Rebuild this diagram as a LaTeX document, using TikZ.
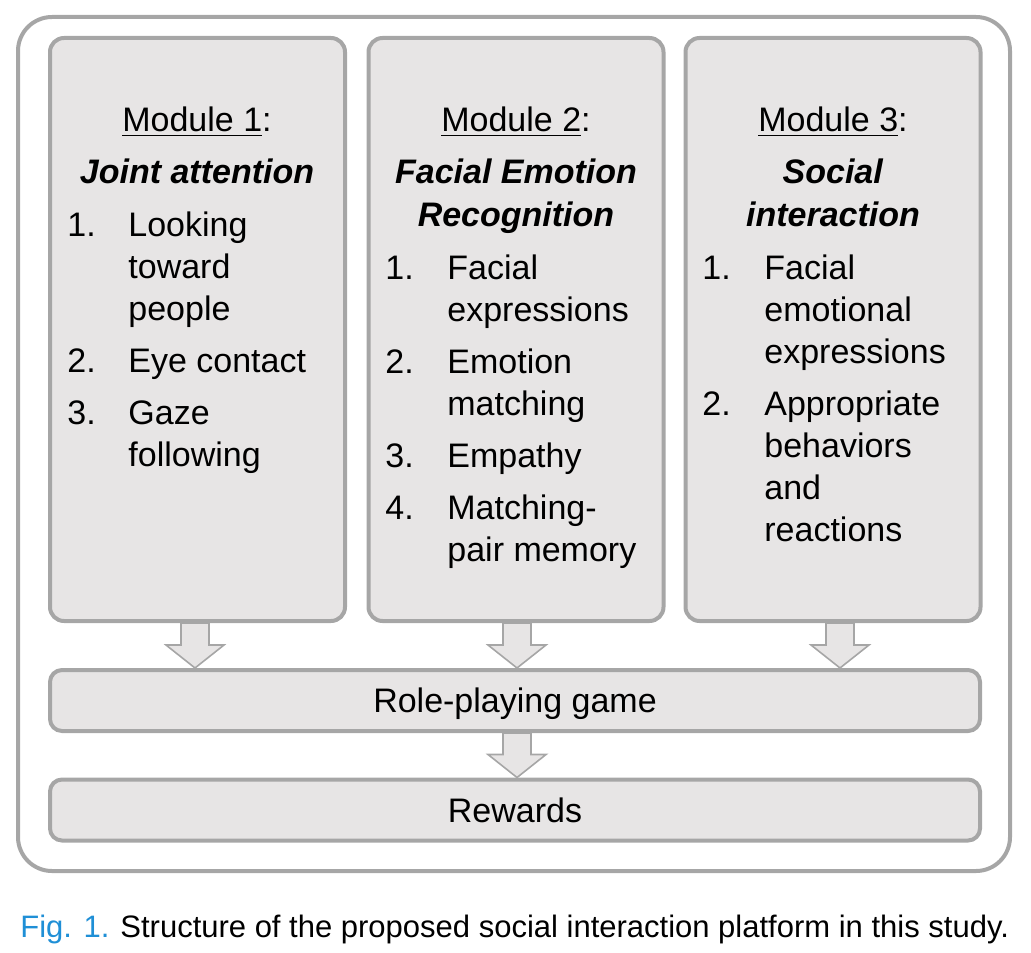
\documentclass[tikz,border=0pt]{standalone}
\usepackage{fontspec}
\setmainfont{Liberation Sans}
\usetikzlibrary{calc,positioning}
\definecolor{boxgray}{HTML}{E7E5E5}
\definecolor{edgegray}{HTML}{A6A6A6}
\definecolor{figblue}{HTML}{1F8FD6}
\newcommand\modfont{\fontsize{17}{21}\selectfont}
\newcommand\capfont{\fontsize{15.5}{18}\selectfont}
\tikzset{
  modbox/.style={draw=edgegray,fill=boxgray,line width=2pt,rounded corners=7pt,
    minimum width=147.5pt,minimum height=291.5pt,inner sep=0pt},
  barbox/.style={draw=edgegray,fill=boxgray,line width=2pt,rounded corners=6pt,
    minimum width=465pt,minimum height=30.5pt,inner sep=0pt,font=\modfont,
    text height=14.5pt,text depth=2.5pt},
  heading/.style={font=\modfont,inner sep=0pt,anchor=base,align=center},
  item/.style={font=\modfont,inner sep=0pt,anchor=base west,align=left},
  arrowshape/.style={draw=edgegray,fill=boxgray,line width=0.8pt,line join=miter},
}
% hollow block arrow: from node, to node, x shift (px)
\newcommand\blockarrow[3]{%
  \draw[arrowshape] let \p1=($(#1)+(#3,0)$), \p2=(#2) in
    (\x1-7pt,\y1) -- (\x1+7pt,\y1) -- (\x1+7pt,\y2+11.5pt) -- (\x1+14.5pt,\y2+11.5pt)
    -- (\x1,\y2) -- (\x1-14.5pt,\y2+11.5pt) -- (\x1-7pt,\y2+11.5pt) -- cycle;}

\begin{document}
\begin{tikzpicture}[x=0.5pt,y=-0.5pt]
  \useasboundingbox (0,0) rectangle (1031,952);
  \draw[edgegray,line width=2pt,rounded corners=17pt] (18,17) rectangle (1010,871);

  % the three modules
  \node[modbox] (m1) at (197.5,329.5) {};
  \node[modbox] (m2) at (516,329.5) {};
  \node[modbox] (m3) at (833,329.5) {};

  \node[barbox] (game) at (515,700.5) {Role-playing game};
  \node[barbox] (reward) at (515,810) {Rewards};

  \blockarrow{m1.south}{game.north}{-2.5}
  \blockarrow{m2.south}{game.north}{1}
  \blockarrow{m3.south}{game.north}{7}
  \blockarrow{game.south}{reward.north}{2}

  % module 1 (multi-line nodes sit on their last baseline)
  \node[heading] (h1) at (197,132) {\underline{Module 1}:};
  \node[heading] (t1) at (197,184) {\textbf{\textit{Joint attention}}};
  \node[item] (n11) at (67,236) {1.};
  \node[item] (i11) at (128,320) {Looking\\toward\\people};
  \node[item] (n12) at (67,372) {2.};
  \node[item] (i12) at (128,372) {Eye contact};
  \node[item] (n13) at (67,424) {3.};
  \node[item] (i13) at (128,466) {Gaze\\following};

  % module 2
  \node[heading] (h2) at (516,132) {\underline{Module 2}:};
  \node[heading] (t2) at (516,226) {\textbf{\textit{Facial Emotion}}\\\textbf{\textit{Recognition}}};
  \node[item] (n21) at (385,279) {1.};
  \node[item] (i21) at (447,321) {Facial\\expressions};
  \node[item] (n22) at (385,373) {2.};
  \node[item] (i22) at (447,415) {Emotion\\matching};
  \node[item] (n23) at (385,467) {3.};
  \node[item] (i23) at (447,467) {Empathy};
  \node[item] (n24) at (385,519) {4.};
  \node[item] (i24) at (447,561) {Matching-\\pair memory};

  % module 3
  \node[heading] (h3) at (833,132) {\underline{Module 3}:};
  \node[heading] (t3) at (833,226) {\textbf{\textit{Social}}\\\textbf{\textit{interaction}}};
  \node[item] (n31) at (702,279) {1.};
  \node[item] (i31) at (764,363) {Facial\\emotional\\expressions};
  \node[item] (n32) at (702,415) {2.};
  \node[item] (i32) at (764,541) {Appropriate\\behaviors\\and\\reactions};

  % caption
  \node[font=\capfont,text=figblue,inner sep=0pt,anchor=base west] (fig) at (20,937) {Fig. 1.};
  \node[font=\capfont,inner sep=0pt,anchor=base west] (cap) at (120,937)
    {Structure of the proposed social interaction platform in this study.};
\end{tikzpicture}
\end{document}
